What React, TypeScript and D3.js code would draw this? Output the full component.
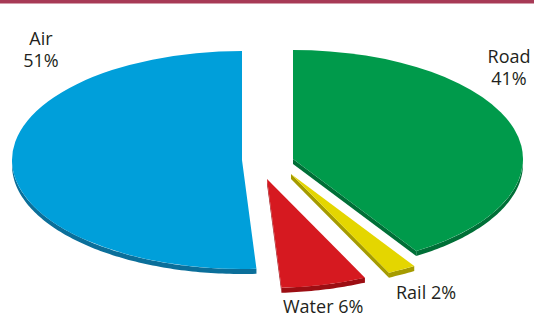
import React from "react";
import * as d3 from "d3";

// ---- data ----
const categories = ["Road", "Rail", "Water", "Air"];
const values = [41, 2, 6, 51];
const topColors = ["#009a4b", "#e4d600", "#d61920", "#009fda"];
const sideColors = ["#006f37", "#a59b00", "#9c0e13", "#0b6f9a"];

// ---- layout ----
const W = 534;
const H = 318;
const CX = 266;
const CY = 160;
const RX = 230;
const RY = 109;
const DEPTH = 5;
// explode offsets per slice (layout, not data)
const explodeX = [27, 25, 1, -24];
const explodeY = [-1, 14, 19, 0];
// label anchors
const labelX = [509, 396, 283, 41];
const labelY = [63, 299, 313, 45];
const labelAnchor = ["middle", "start", "start", "middle"];
const labelTwoLines = [true, false, false, true];
const drawOrder = [3, 0, 1, 2];

function pt(cx: number, cy: number, theta: number, dy = 0): [number, number] {
  return [cx + RX * Math.cos(theta), cy + RY * Math.sin(theta) + dy];
}

function outerWall(cx: number, cy: number, t0: number, t1: number): string | null {
  const segs: [number, number][] = [];
  for (let k = -1; k <= 1; k++) {
    const a = Math.max(t0, k * 2 * Math.PI);
    const b = Math.min(t1, k * 2 * Math.PI + Math.PI);
    if (b > a) segs.push([a, b]);
  }
  if (!segs.length) return null;
  let d = "";
  for (const [a, b] of segs) {
    const n = Math.max(8, Math.ceil((b - a) * 60));
    const p = d3.path();
    const top: [number, number][] = [];
    for (let i = 0; i <= n; i++) top.push(pt(cx, cy, a + ((b - a) * i) / n));
    p.moveTo(top[0][0], top[0][1]);
    top.forEach((q) => p.lineTo(q[0], q[1]));
    for (let i = n; i >= 0; i--) {
      const q = pt(cx, cy, a + ((b - a) * i) / n, DEPTH);
      p.lineTo(q[0], q[1]);
    }
    p.closePath();
    d += p.toString();
  }
  return d;
}

function radialWall(cx: number, cy: number, theta: number): string {
  const p = d3.path();
  const r = pt(cx, cy, theta);
  p.moveTo(cx, cy);
  p.lineTo(r[0], r[1]);
  p.lineTo(r[0], r[1] + DEPTH);
  p.lineTo(cx, cy + DEPTH);
  p.closePath();
  return p.toString();
}

export default function App() {
  const pie = d3.pie<number>().sort(null).value((d) => d);
  const arcs = pie(values);
  const arcGen = d3.arc<d3.PieArcDatum<number>>().innerRadius(0).outerRadius(RX);

  return (
    <svg
      width={W}
      height={H}
      style={{ position: "absolute", left: 0, top: 0, display: "block", background: "#fff" }}
    >
      <rect x={0} y={0} width={W} height={3.5} fill="#a73a56" />
      {drawOrder.map((i) => {
        const a = arcs[i];
        const cx = CX + explodeX[i];
        const cy = CY + explodeY[i];
        const t0 = a.startAngle - Math.PI / 2;
        const t1 = a.endAngle - Math.PI / 2;
        const walls: string[] = [];
        if (Math.cos(t0) < -1e-6) walls.push(radialWall(cx, cy, t0));
        if (Math.cos(t1) > 1e-6) walls.push(radialWall(cx, cy, t1));
        const ow = outerWall(cx, cy, t0, t1);
        return (
          <g key={categories[i]}>
            {walls.map((d, k) => (
              <path key={k} d={d} fill={sideColors[i]} />
            ))}
            {ow && <path d={ow} fill={sideColors[i]} />}
            <g transform={`translate(${cx},${cy}) scale(1,${RY / RX})`}>
              <path d={arcGen(a) || ""} fill={topColors[i]} />
            </g>
          </g>
        );
      })}
      {categories.map((c, i) => (
        <text
          key={c}
          x={labelX[i]}
          y={labelY[i]}
          textAnchor={labelAnchor[i] as any}
          fontFamily="'Open Sans', sans-serif"
          fontSize={18}
          fill="#231f20"
        >
          {labelTwoLines[i] ? (
            <>
              <tspan x={labelX[i]}>{c}</tspan>
              <tspan x={labelX[i]} dy={22}>{`${values[i]}%`}</tspan>
            </>
          ) : (
            `${c} ${values[i]}%`
          )}
        </text>
      ))}
    </svg>
  );
}
